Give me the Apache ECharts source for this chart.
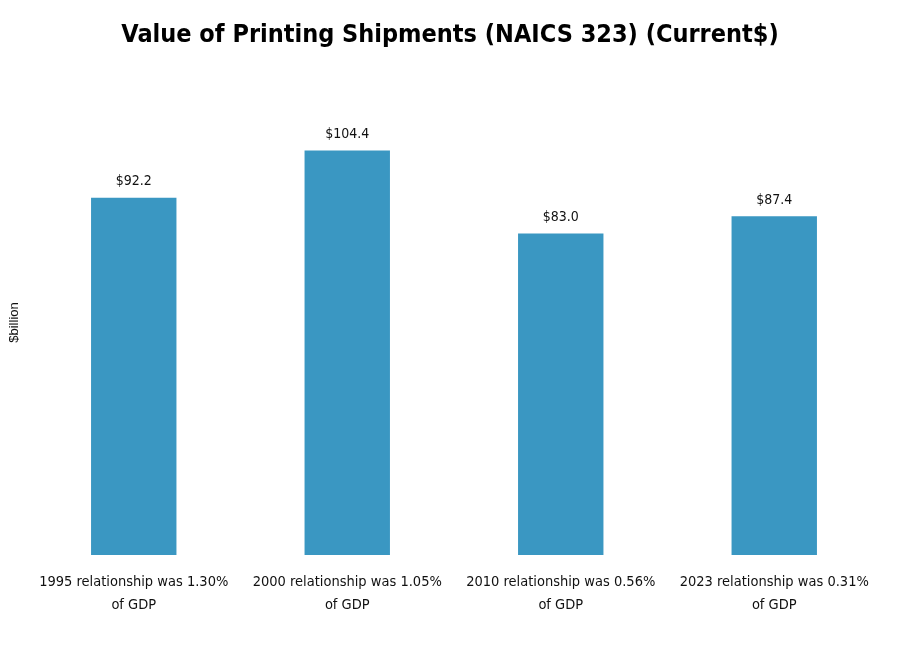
<!DOCTYPE html>
<html><head><meta charset="utf-8">
<script src="https://cdn.jsdelivr.net/npm/echarts@6/dist/echarts.min.js"></script>
<style>html,body{margin:0;padding:0;background:#fff}#c{width:900px;height:652px}</style>
</head><body><div id="c"></div>
<script>
const categories = [
  "1995 relationship was 1.30%\nof GDP",
  "2000 relationship was 1.05%\nof GDP",
  "2010 relationship was 0.56%\nof GDP",
  "2023 relationship was 0.31%\nof GDP"
];
const values = [92.2, 104.4, 83.0, 87.4];
const titleText = "Value of Printing Shipments (NAICS 323) (Current$)";
const yName = "$billion";

const FONT = "'Liberation Sans Narrow','DejaVu Sans Condensed','Roboto Condensed',sans-serif";
const chart = echarts.init(document.getElementById('c'), null, {renderer:'canvas'});
chart.setOption({
  animation:false,
  backgroundColor:'#fff',
  title:{text:titleText,left:'center',top:18,
    textStyle:{fontFamily:FONT,fontWeight:'bold',fontSize:25,color:'#000'}},
  grid:{left:24,right:19,top:90,bottom:97,containLabel:false},
  xAxis:{type:'category',data:categories,
    axisLine:{show:false},axisTick:{show:false},
    axisLabel:{interval:0,fontFamily:FONT,fontSize:14.5,color:'#111',lineHeight:23,margin:16}},
  yAxis:{type:'value',min:0,max:120,show:true,
    name:yName,nameLocation:'middle',nameGap:6,nameRotate:90,
    nameTextStyle:{fontFamily:'Liberation Sans, Arial, sans-serif',fontSize:13,color:'#111'},
    axisLine:{show:false},axisTick:{show:false},axisLabel:{show:false},splitLine:{show:false}},
  series:[{type:'bar',data:values,barWidth:'40%',
    itemStyle:{color:'#3a97c2'},
    label:{show:true,position:'top',distance:9,fontFamily:FONT,fontSize:14,color:'#111',
      formatter:p=>'$'+p.value.toFixed(1)}}]
});
</script></body></html>
